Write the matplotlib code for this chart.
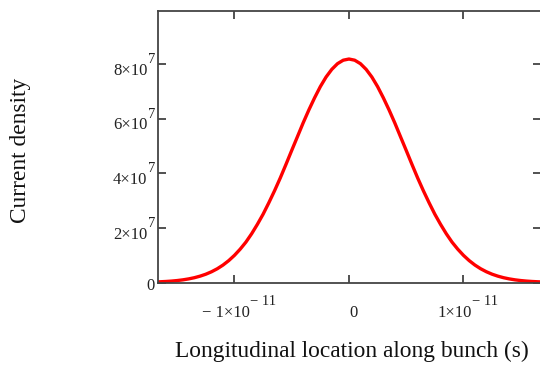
import matplotlib
matplotlib.use("Agg")
import matplotlib.pyplot as plt
from matplotlib.transforms import IdentityTransform

plt.rcParams["font.family"] = ["Liberation Serif", "DejaVu Serif"]

# Longitudinal position along the bunch (s), 0.05 ps steps
time_s = [k * 0.5e-12 for k in range(-34, 35)]
# Current density from the bunch centre outwards
density_half = [8.19e7, 8.147e7, 8.02e7, 7.811e7, 7.53e7, 7.179e7, 6.77e7, 6.326e7,
                5.85e7, 5.344e7, 4.84e7, 4.329e7, 3.83e7, 3.361e7, 2.92e7, 2.502e7,
                2.13e7, 1.786e7, 1.48e7, 1.222e7, 0.995e7, 0.802e7, 0.639e7,
                0.504e7, 0.394e7, 0.304e7, 0.233e7, 0.176e7, 0.132e7, 0.0974e7,
                0.0714e7, 0.0517e7, 0.0371e7, 0.0264e7, 0.0185e7]
current_density = density_half[:0:-1] + density_half

# Tick values with (mantissa text, exponent text) labels
x_ticks = [-1e-11, 0.0, 1e-11]
x_tick_labels = [("\u2212 1\u00d710", "\u2212 11"), ("0", ""), ("1\u00d710", "\u2212 11")]
y_ticks = [0, 2e7, 4e7, 6e7, 8e7]
y_tick_labels = [("0", ""), ("2\u00d710", "7"), ("4\u00d710", "7"),
                 ("6\u00d710", "7"), ("8\u00d710", "7")]

W, H = 540, 368
fig = plt.figure(figsize=(W / 100, H / 100), dpi=100)
ax = fig.add_axes([157.5 / W, 1 - 282.5 / H, (541 - 157.5) / W, (282.5 - 11) / H])

ax.plot(time_s, current_density, color="#ff0000", lw=2.4, solid_capstyle="round")

ax.set_xlim(-1.672e-11, 1.677e-11)
ax.set_ylim(0, 9.95e7)

ax.set_xticks(x_ticks)
ax.set_xticklabels([])
ax.set_yticks(y_ticks)
ax.set_yticklabels([])
ax.tick_params(axis="both", direction="in", length=6, width=1.2, color="#333333",
               top=True, right=True)
for spine in ax.spines.values():
    spine.set_color("#444444")
    spine.set_linewidth(1.3)

renderer = fig.canvas.get_renderer()
base_size, sup_size, sup_rise = 12, 10.5, 11.7
txt_color = "#222222"


def label_parts(x, y, base, sup, ha):
    """Draw a mantissa with a raised exponent; x is the anchor in pixels."""
    tb = fig.text(0, 0, base, fontsize=base_size, color=txt_color,
                  transform=IdentityTransform(), va="baseline", ha="left")
    wb = tb.get_window_extent(renderer).width
    ws = 0.0
    ts = None
    if sup:
        ts = fig.text(0, 0, sup, fontsize=sup_size, color=txt_color,
                      transform=IdentityTransform(), va="baseline", ha="left")
        ws = ts.get_window_extent(renderer).width + 0.5
    total = wb + ws
    left = x - total / 2 if ha == "center" else x - total
    tb.set_position((left, y))
    if ts is not None:
        ts.set_position((left + wb + 0.5, y + sup_rise))


for val, (base, sup) in zip(x_ticks, x_tick_labels):
    px = ax.transData.transform((val, 0))[0]
    label_parts(px + 4.5, H - 316.7, base, sup, "center")

for val, (base, sup) in zip(y_ticks, y_tick_labels):
    py = ax.transData.transform((0, val))[1]
    drop = 10.7 if sup else 8.0
    label_parts(155.0, py - drop, base, sup, "right")

fig.text(21 / W, 1 - 150 / H, "Current density", rotation=90,
         ha="center", va="center", fontsize=16.8, color="#111111")
fig.text(351.5 / W, 1 - 351 / H, "Longitudinal location along bunch (s)",
         ha="center", va="center", fontsize=16.8, color="#111111")

fig.savefig("out.png", dpi=100)
